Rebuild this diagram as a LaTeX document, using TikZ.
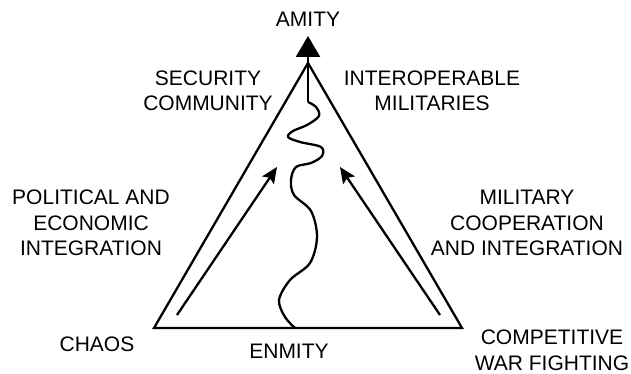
\documentclass[tikz,border=0pt]{standalone}
\usepackage{fontspec}
\setmainfont{Liberation Sans}
\usetikzlibrary{arrows.meta}
\tikzset{%
 >={Stealth[length=16pt, width=14pt, inset=3pt]}
}
\usetikzlibrary{positioning}
\tikzset{%
 lbl/.style={inner sep=0pt, align=center, font=\fontsize{21}{25.5}\selectfont},
 edge/.style={line width=2.3pt, line join=miter}
}

\begin{document}
\begin{tikzpicture}[x=1pt, y=-1pt]
 \useasboundingbox (0,0) rectangle (631,374);
 % corners of the triangle
 \coordinate (top) at (308,63);
 \coordinate (left) at (154,328);
 \coordinate (right) at (462,328);
 \draw [edge] (top) -- (left) -- (right) -- cycle;

 % road from enmity up to amity
 \coordinate (start) at (295,328);
 \coordinate (bend) at (308,102);
 \coordinate (tip) at (308,36);
 \draw [edge, line join=round] plot [smooth, tension=.55] coordinates {
   (start) (285,317) (279,300) (290,280) (310,263) (317,237) (311,211)
   (294,195) (291,180) (296,167) (311,163) (322,156) (321,147) (300,142)
   (288,137) (293,131) (307,125) (319,116) (316,107) (bend)};
 \draw [edge, -{Triangle[length=21pt, width=24pt]}] (bend) -- (tip);

 % side arrows
 \coordinate (lt) at (177,315);
 \coordinate (lh) at (277,167);
 \coordinate (rt) at (440,315);
 \coordinate (rh) at (340,167);
 \draw [edge, ->] (lt) -- (lh);
 \draw [edge, ->] (rt) -- (rh);

 \node [lbl] (amity) at (308,19.5) {AMITY};
 \node [lbl] (secur) at (208,91) {SECURITY\\COMMUNITY};
 \node [lbl] (inter) at (432,91) {INTEROPERABLE\\MILITARIES};
 \node [lbl] (polit) at (91,223) {POLITICAL AND\\ECONOMIC\\INTEGRATION};
 \node [lbl] (milit) at (527,223) {MILITARY\\COOPERATION\\AND INTEGRATION};
 \node [lbl] (chaos) at (97,344) {CHAOS};
 \node [lbl] (enmity) at (289,351) {ENMITY};
 \node [lbl] (compet) at (552,350.5) {COMPETITIVE\\WAR FIGHTING};
\end{tikzpicture}
\end{document}
